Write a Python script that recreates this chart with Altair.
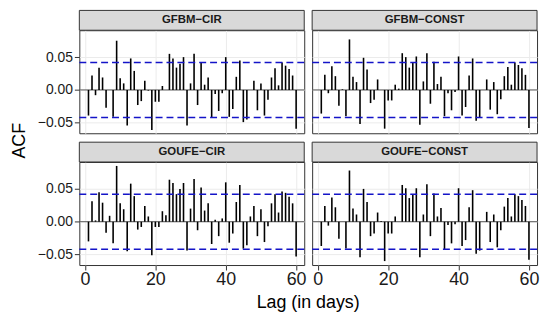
import altair as alt
import pandas as pd

panels = ["GFBM−CIR", "GFBM−CONST", "GOUFE−CIR", "GOUFE−CONST"]
lags = list(range(1, 61))

acf_gfbm_cir = [
    -0.039, 0.022, -0.008, 0.034, 0.019, -0.027, 0.000, -0.041, 0.075, 0.018,
    0.010, -0.054, 0.048, 0.029, -0.023, -0.017, 0.014, -0.001, -0.061, -0.018,
    -0.018, 0.006, 0.000, 0.055, 0.048, 0.034, 0.040, 0.050, -0.054, 0.010,
    0.055, -0.023, 0.042, 0.008, 0.019, -0.042, -0.006, -0.032, -0.005, 0.050,
    -0.041, -0.029, 0.020, 0.045, -0.049, -0.045, 0.000, 0.014, -0.031, 0.010,
    -0.039, -0.015, 0.019, 0.033, 0.007, 0.042, 0.037, 0.032, 0.022, -0.059,
]
acf_gfbm_const = [
    -0.036, 0.023, -0.005, 0.036, 0.021, -0.024, 0.001, -0.040, 0.077, 0.020,
    0.012, -0.052, 0.049, 0.031, -0.020, -0.015, 0.016, 0.000, -0.059, -0.016,
    -0.016, 0.008, 0.002, 0.056, 0.050, 0.034, 0.041, 0.051, -0.053, 0.013,
    0.056, -0.021, 0.043, 0.009, 0.020, -0.040, -0.005, -0.031, -0.003, 0.051,
    -0.039, -0.026, 0.022, 0.048, -0.047, -0.042, 0.000, 0.016, -0.030, 0.012,
    -0.037, -0.014, 0.021, 0.035, 0.008, 0.042, 0.038, 0.033, 0.023, -0.058,
]
acf_goufe_cir = [
    -0.030, 0.031, 0.002, 0.045, 0.029, -0.017, 0.009, -0.033, 0.085, 0.028,
    0.019, -0.045, 0.058, 0.039, -0.012, -0.008, 0.024, 0.008, -0.051, -0.008,
    -0.008, 0.016, 0.010, 0.064, 0.059, 0.042, 0.050, 0.059, -0.044, 0.020,
    0.065, -0.013, 0.052, 0.017, 0.028, -0.034, 0.003, -0.022, 0.005, 0.060,
    -0.032, -0.018, 0.030, 0.056, -0.041, -0.036, 0.008, 0.024, -0.022, 0.019,
    -0.031, -0.007, 0.028, 0.042, 0.014, 0.046, 0.044, 0.038, 0.028, -0.053,
]
acf_goufe_const = [
    -0.037, 0.024, -0.006, 0.037, 0.022, -0.026, 0.000, -0.041, 0.078, 0.020,
    0.011, -0.054, 0.050, 0.030, -0.022, -0.018, 0.014, 0.001, -0.060, -0.018,
    -0.018, 0.008, 0.000, 0.056, 0.051, 0.036, 0.041, 0.051, -0.054, 0.011,
    0.057, -0.022, 0.043, 0.008, 0.021, -0.042, -0.005, -0.033, -0.004, 0.051,
    -0.037, -0.028, 0.022, 0.048, -0.049, -0.044, 0.000, 0.015, -0.031, 0.011,
    -0.039, -0.013, 0.023, 0.036, 0.008, 0.042, 0.039, 0.033, 0.024, -0.058,
]
ci_bound = 0.042
x_ticks = [0, 20, 40, 60]
y_ticks = [-0.05, 0, 0.05]

series = [acf_gfbm_cir, acf_gfbm_const, acf_goufe_cir, acf_goufe_const]

W, H = 227, 104
STRIP = 20
FONT = "Liberation Sans"
BLUE = "#1414C8"


def make_panel(name, vals, show_x, show_y, y_title, x_title):
    df = pd.DataFrame({"lag": lags, "acf": vals})
    df["zero"] = 0.0
    df["panel"] = name

    if show_x:
        if x_title:
            x_axis = alt.Axis(values=x_ticks, format="d", title=x_title, titleX=(W * 2 + 7) / 2)
        else:
            x_axis = alt.Axis(values=x_ticks, format="d", title=None)
    else:
        x_axis = alt.Axis(values=x_ticks, labels=False, ticks=False, title=None)
    if show_y:
        if y_title:
            y_axis = alt.Axis(values=y_ticks, format=".2f", title=y_title, titleY=H + 7)
        else:
            y_axis = alt.Axis(values=y_ticks, format=".2f", title=None)
    else:
        y_axis = alt.Axis(values=y_ticks, labels=False, ticks=False, title=None)

    x_enc = alt.X("lag:Q", scale=alt.Scale(domain=[-1.6, 62.3], nice=False, zero=False), axis=x_axis)
    y_enc = alt.Y("acf:Q", scale=alt.Scale(domain=[-0.066, 0.091], nice=False), axis=y_axis)

    base = alt.Chart(df)
    first = base.transform_filter(alt.datum.lag == 1)
    zero_line = first.mark_rule(color="#555555", strokeWidth=1).encode(y=alt.datum(0))
    bars = base.mark_rule(color="black", strokeWidth=1.6).encode(x=x_enc, y=y_enc, y2="zero:Q")
    ci_hi = first.mark_rule(color=BLUE, strokeWidth=1.5, strokeDash=[7, 4]).encode(y=alt.datum(ci_bound))
    ci_lo = first.mark_rule(color=BLUE, strokeWidth=1.5, strokeDash=[7, 4]).encode(y=alt.datum(-ci_bound))
    strip = first.mark_rect(fill="#D9D9D9", stroke="#333333", strokeWidth=1).encode(
        x=alt.value(0), x2=alt.value(W), y=alt.value(-STRIP), y2=alt.value(0)
    )
    strip_text = first.mark_text(
        font=FONT, fontSize=11.5, fontWeight="bold", color="#1A1A1A", baseline="middle"
    ).encode(x=alt.value(W / 2), y=alt.value(-STRIP / 2), text="panel:N")
    return alt.layer(zero_line, bars, ci_hi, ci_lo, strip, strip_text).properties(width=W, height=H)


tl = make_panel(panels[0], series[0], False, True, "ACF", None)
tr = make_panel(panels[1], series[1], False, False, None, None)
bl = make_panel(panels[2], series[2], True, True, None, "Lag (in days)")
br = make_panel(panels[3], series[3], True, False, None, None)

chart = (
    alt.concat(tl, tr, bl, br, columns=2, spacing={"row": 29, "column": 8}, bounds="flush")
    .configure_view(stroke="#333333", strokeWidth=1)
    .configure_axis(
        domain=False,
        grid=True,
        gridColor="#EBEBEB",
        gridWidth=1,
        tickColor="#333333",
        tickSize=5,
        labelFont=FONT,
        labelColor="#1A1A1A",
        titleFont=FONT,
        titleColor="black",
        titleFontWeight="normal",
        titleFontSize=18,
    )
    .configure_axisX(labelFontSize=18, labelPadding=1, titlePadding=5)
    .configure_axisY(labelFontSize=14, labelPadding=2, titlePadding=9)
    .properties(padding={"left": 2, "top": 0, "right": 2, "bottom": 0})
)

chart.save("out.html", embed_options={"renderer": "svg", "actions": False})
